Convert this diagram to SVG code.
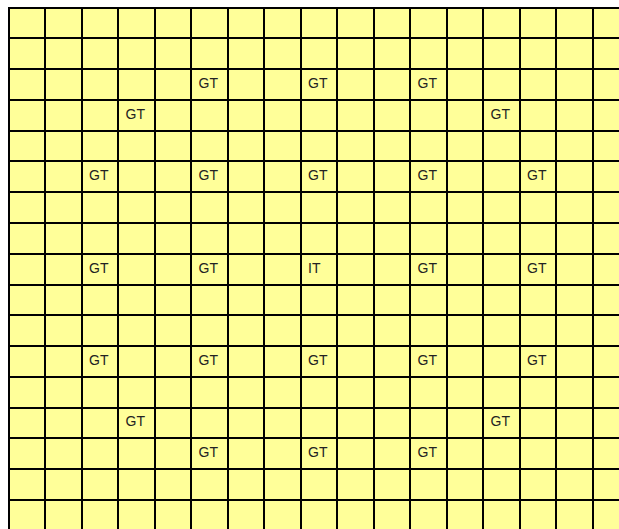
<svg xmlns="http://www.w3.org/2000/svg" width="619" height="529" viewBox="0 0 619 529">
<style>
.bg{fill:#FFFF99}
.grid{stroke:#000;stroke-width:2;fill:none}
.t{font-family:"Liberation Sans",Arial,sans-serif;font-size:14px;fill:#222}
</style>
<rect width="619" height="529" fill="#fff"/>
<rect class="bg" x="8" y="7" width="611" height="522"/>
<g id="grid">
<path class="grid" d="M9 7V529M45 7V529M82 7V529M118 7V529M155 7V529M191 7V529M228 7V529M264 7V529M301 7V529M337 7V529M374 7V529M410 7V529M447 7V529M483 7V529M520 7V529M556 7V529M593 7V529
M8 8H619M8 38H619M8 69H619M8 100H619M8 131H619M8 161H619M8 192H619M8 223H619M8 254H619M8 285H619M8 315H619M8 346H619M8 377H619M8 408H619M8 438H619M8 469H619M8 500H619"/>
</g>
<g id="labels">
<g id="r2c5"><text class="t" x="198.5" y="88">GT</text></g>
<g id="r2c8"><text class="t" x="308" y="88">GT</text></g>
<g id="r2c11"><text class="t" x="417.5" y="88">GT</text></g>
<g id="r3c3"><text class="t" x="125.5" y="118.8">GT</text></g>
<g id="r3c13"><text class="t" x="490.5" y="118.8">GT</text></g>
<g id="r5c2"><text class="t" x="89" y="180.3">GT</text></g>
<g id="r5c5"><text class="t" x="198.5" y="180.3">GT</text></g>
<g id="r5c8"><text class="t" x="308" y="180.3">GT</text></g>
<g id="r5c11"><text class="t" x="417.5" y="180.3">GT</text></g>
<g id="r5c14"><text class="t" x="527" y="180.3">GT</text></g>
<g id="r8c2"><text class="t" x="89" y="272.6">GT</text></g>
<g id="r8c5"><text class="t" x="198.5" y="272.6">GT</text></g>
<g id="r8c8"><text class="t" x="308" y="272.6">IT</text></g>
<g id="r8c11"><text class="t" x="417.5" y="272.6">GT</text></g>
<g id="r8c14"><text class="t" x="527" y="272.6">GT</text></g>
<g id="r11c2"><text class="t" x="89" y="364.9">GT</text></g>
<g id="r11c5"><text class="t" x="198.5" y="364.9">GT</text></g>
<g id="r11c8"><text class="t" x="308" y="364.9">GT</text></g>
<g id="r11c11"><text class="t" x="417.5" y="364.9">GT</text></g>
<g id="r11c14"><text class="t" x="527" y="364.9">GT</text></g>
<g id="r13c3"><text class="t" x="125.5" y="426.2">GT</text></g>
<g id="r13c13"><text class="t" x="490.5" y="426.2">GT</text></g>
<g id="r14c5"><text class="t" x="198.5" y="457">GT</text></g>
<g id="r14c8"><text class="t" x="308" y="457">GT</text></g>
<g id="r14c11"><text class="t" x="417.5" y="457">GT</text></g>
</g>
<g id="connectors"/>
</svg>
